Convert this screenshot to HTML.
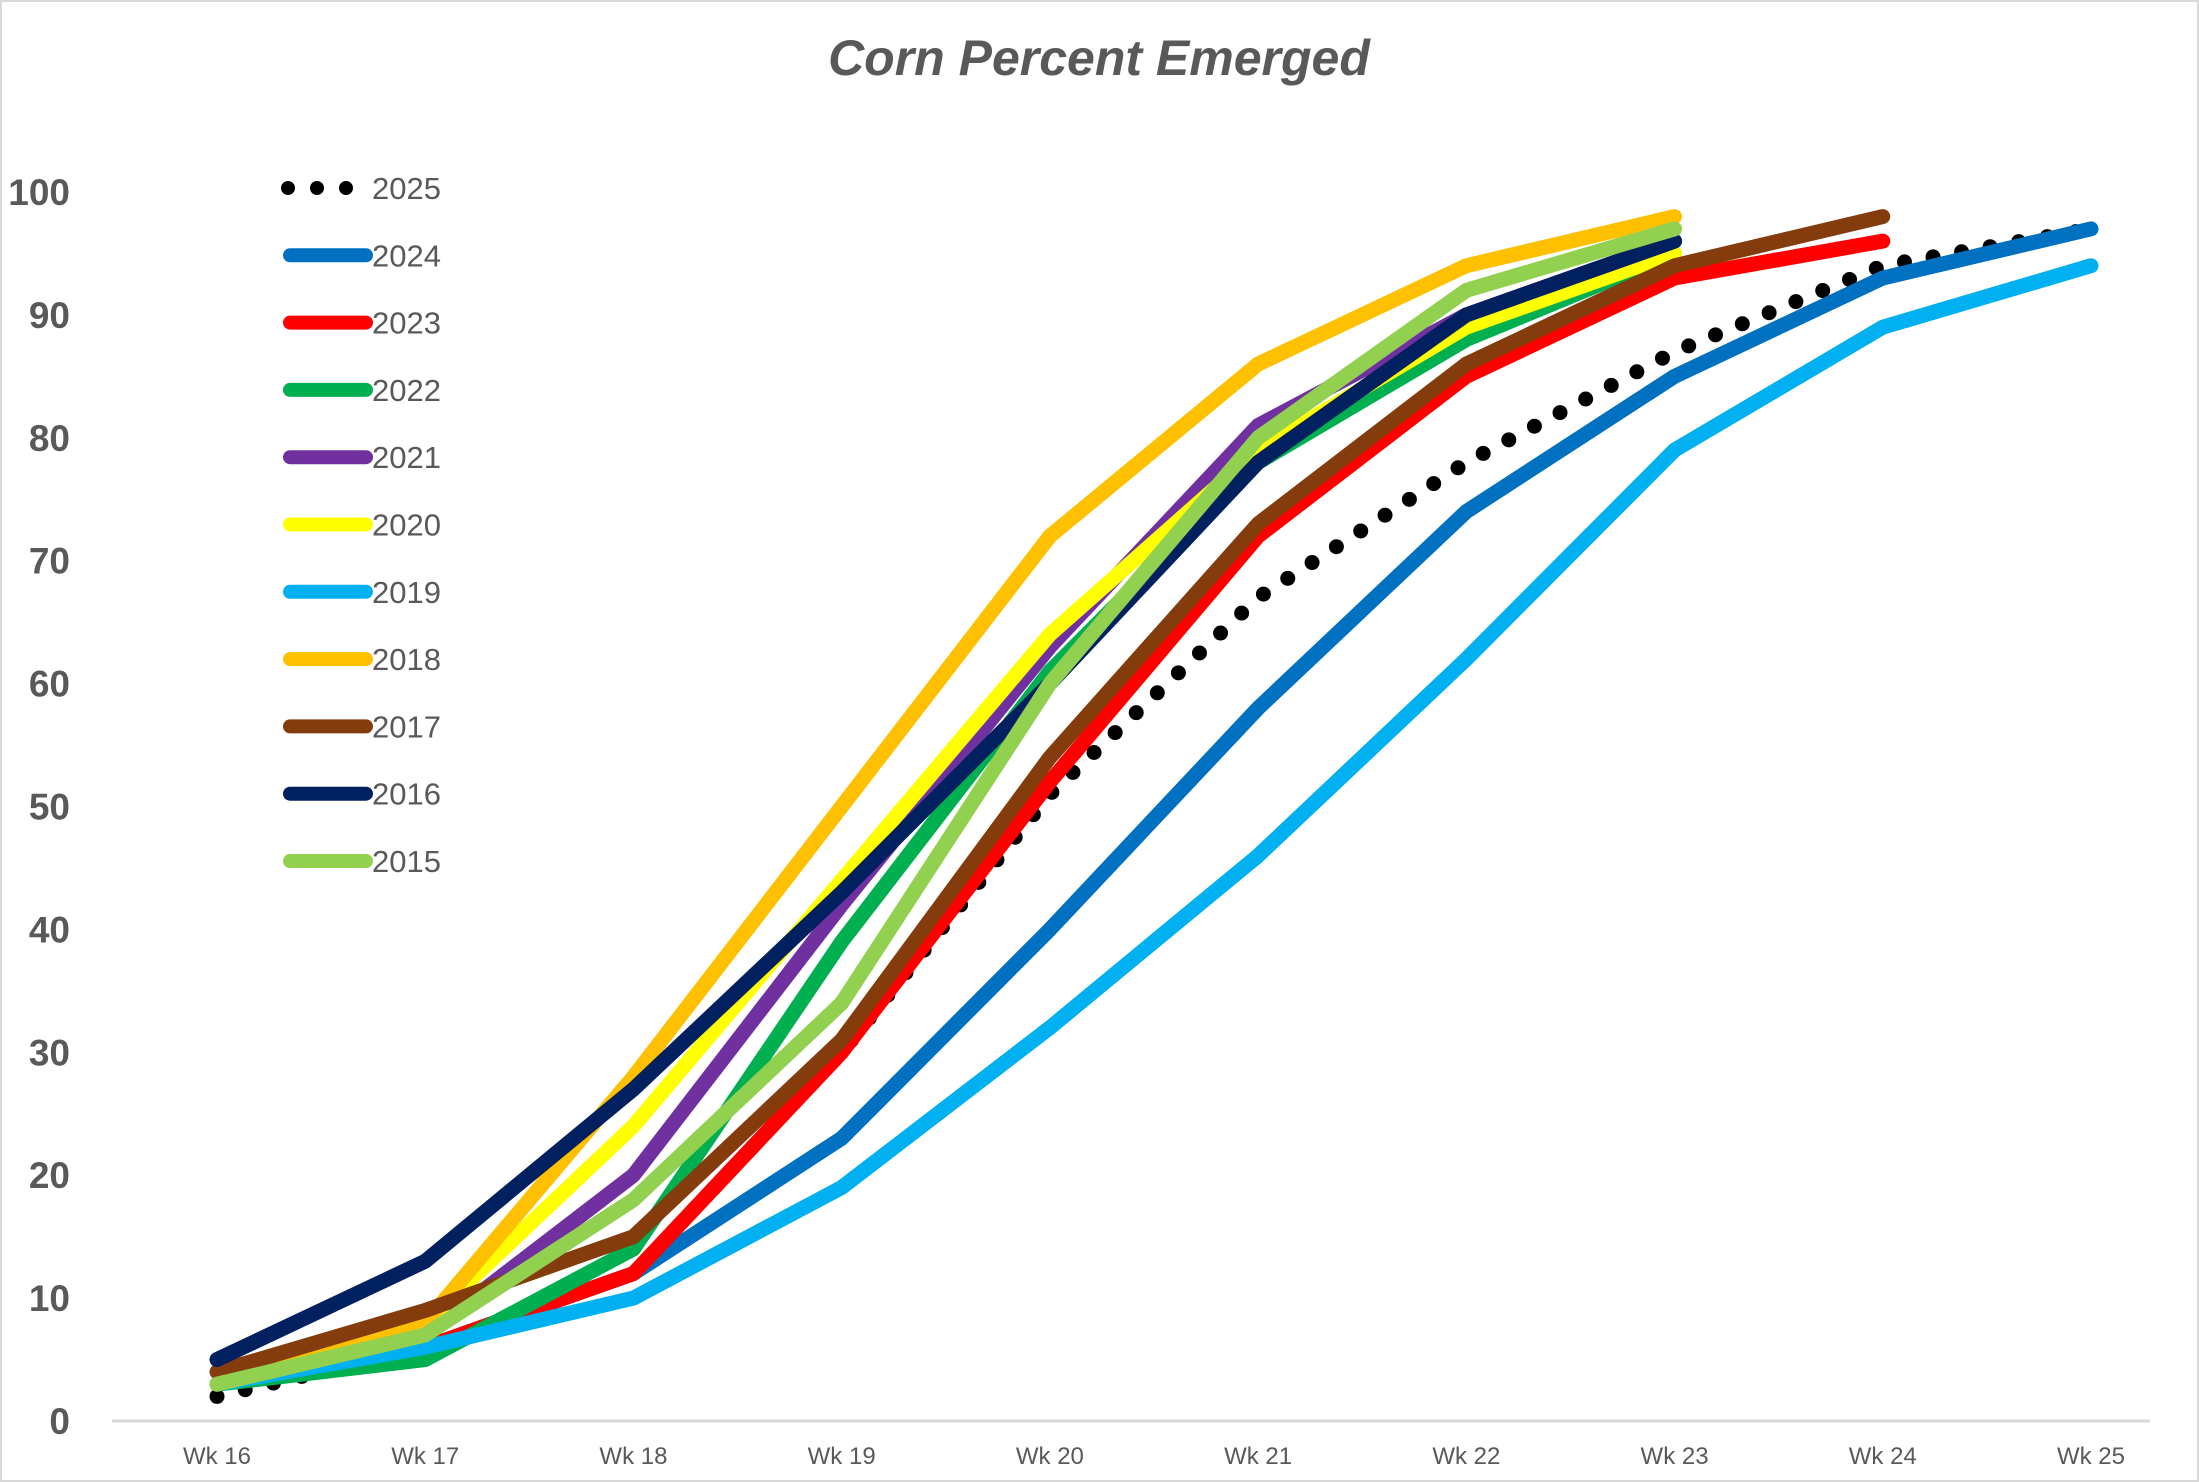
<!DOCTYPE html>
<html><head><meta charset="utf-8"><style>
html,body{margin:0;padding:0;background:#fff}
svg{display:block;font-family:"Liberation Sans",sans-serif}
</style></head><body>
<svg width="2199" height="1482" viewBox="0 0 2199 1482">
<rect x="1" y="1" width="2197" height="1480" fill="#fff" stroke="#d9d9d9" stroke-width="2"/>
<text x="1099" y="75" text-anchor="middle" font-size="50" font-weight="bold" font-style="italic" fill="#595959">Corn Percent Emerged</text>
<g id="axes"></g>
<g id="series"></g>
<g id="legend"></g>
</svg>
<script>
const categories = ["Wk 16","Wk 17","Wk 18","Wk 19","Wk 20","Wk 21","Wk 22","Wk 23","Wk 24","Wk 25"];
const yTicks = [0,10,20,30,40,50,60,70,80,90,100];
const seriesNames = ["2025","2024","2023","2022","2021","2020","2019","2018","2017","2016","2015"];
const seriesColors = ["#000000","#0070c0","#ff0000","#00b050","#7030a0","#ffff00","#00b0f0","#ffc000","#843c0c","#002060","#92d050"];
const s2025 = [2,6,12,30,51,67,78,87,94,97];
const s2024 = [3,6,12,23,40,58,74,85,93,97];
const s2023 = [3,6,12,30,52,72,85,93,96];
const s2022 = [3,5,14,39,61,78,88,95];
const s2021 = [3,7,20,42,63,81,90,96];
const s2020 = [3,8,24,44,64,79,89,95];
const s2019 = [3,6,10,19,32,46,62,79,89,94];
const s2018 = [3,8,28,50,72,86,94,98];
const s2017 = [4,9,15,31,54,73,86,94,98];
const s2016 = [5,13,27,43,60,78,90,96];
const s2015 = [3,7,18,34,60,80,92,97];
const seriesValues = [s2025,s2024,s2023,s2022,s2021,s2020,s2019,s2018,s2017,s2016,s2015];

const NS="http://www.w3.org/2000/svg";
const x0=217, x1=2091, y0=1421, y100=192;
function xScale(i){return x0+(x1-x0)*i/(categories.length-1);}
function yScale(v){return y0-(y0-y100)*v/100;}
function mk(tag,attrs,parent){const e=document.createElementNS(NS,tag);for(const k in attrs)e.setAttribute(k,attrs[k]);parent.appendChild(e);return e;}

const axes=document.getElementById('axes');
const axisLine=mk('line',{x1:112,x2:2150,y1:y0,y2:y0,stroke:'#d9d9d9','stroke-width':3},axes);


yTicks.forEach(t=>{
  const tx=mk('text',{x:70,y:yScale(t)+13,'text-anchor':'end','font-size':37,'font-weight':'bold',fill:'#595959'},axes);
  tx.textContent=t;
  
  
});
categories.forEach((c,i)=>{
  const tx=mk('text',{x:xScale(i),y:1464,'text-anchor':'middle','font-size':24,fill:'#595959'},axes);
  tx.textContent=c;
  
  
});

const sg=document.getElementById('series');
const lg=document.getElementById('legend');
seriesValues.forEach((vals,si)=>{
  const pts=vals.map((v,i)=>xScale(i)+','+yScale(v)).join(' ');
  const dotted=si===0;
  const attrs={points:pts,fill:'none',stroke:seriesColors[si],'stroke-width':15,'stroke-linejoin':'round','stroke-linecap':'round'};
  if(dotted){attrs['stroke-dasharray']='0 29';}
  const pl=mk('polyline',attrs,sg);
  
  
  const ly=188+si*67.3;
  const la={x1:290,x2:366,y1:ly,y2:ly,stroke:seriesColors[si],'stroke-width':14,'stroke-linecap':'round'};
  if(dotted){la['stroke-dasharray']='0 29';la.x1=288;la.x2=347;}
  const ll=mk('line',la,lg);
  
  
  const lt=mk('text',{x:372,y:ly+11,'font-size':31,fill:'#595959'},lg);
  lt.textContent=seriesNames[si];
  
  
});
</script>
</body></html>
